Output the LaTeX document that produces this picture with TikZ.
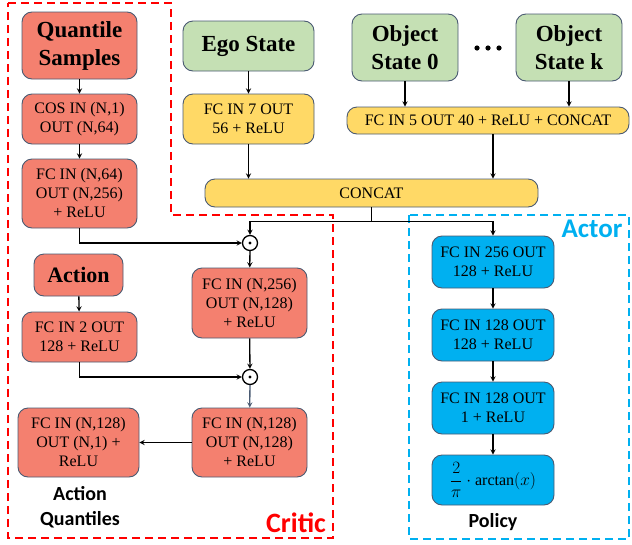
\documentclass[tikz,border=0pt]{standalone}
\usepackage{amsmath}
\usepackage{fontspec}
\setmainfont{Liberation Serif}
\newfontfamily\labelfont{Carlito}
\usepackage{xcolor}
\usepackage{tikz}
\usetikzlibrary{shapes.geometric, arrows}
\definecolor{salmon}{HTML}{F4806F}
\definecolor{mint}{HTML}{C5E0B4}
\definecolor{gold}{HTML}{FFD966}
\definecolor{sky}{HTML}{00B0F0}
\definecolor{edge}{HTML}{4A5A72}
\tikzstyle{layer} = [rectangle, rounded corners=10pt, draw=edge, line width=0.9pt, text centered, align=center, inner sep=2pt, font=\fontsize{16}{19}\selectfont]
\tikzstyle{critic} = [layer, fill=salmon]
\tikzstyle{state} = [layer, fill=mint, font=\fontsize{23}{28}\selectfont\bfseries]
\tikzstyle{merge} = [layer, fill=gold]
\tikzstyle{actor} = [layer, fill=sky, minimum width=122pt]
\tikzstyle{prod} = [circle, draw=black, line width=1.3pt, fill=white, minimum size=15pt, inner sep=0pt]
\tikzstyle{caption} = [align=center, font=\labelfont\fontsize{20}{25}\selectfont\bfseries]
\tikzstyle{arrow} = [line width=1.3pt,->,>=stealth]

\begin{document}
\begin{tikzpicture}[x=1pt, y=-1pt]
   \useasboundingbox (0,0) rectangle (632,544);
   % dashed regions
   \draw [red, dashed, line width=1.8pt, dash pattern=on 8pt off 5pt] (8,3) -- (171,3) -- (171,215) -- (333,215) -- (333,538) -- (8,538) -- cycle;
   \draw [sky, dashed, line width=1.8pt, dash pattern=on 8pt off 5pt] (409,215) rectangle (629,539);
   \node (critlbl) [font=\labelfont\fontsize{28}{30}\selectfont\bfseries, text=red] at (296,523) {Critic};
   \node (actlbl) [font=\labelfont\fontsize{27}{30}\selectfont\bfseries, text=sky] at (592,229) {Actor};
   % inputs
   \node (qs) [critic, font=\fontsize{23}{28}\selectfont\bfseries, minimum width=115pt, minimum height=67pt] at (79.5,45.5) {Quantile\\Samples};
   \node (ego) [state, minimum width=131pt, minimum height=50pt] at (248.5,46) {Ego State};
   \node (obj0) [state, minimum width=106pt, minimum height=67pt] at (405,47.5) {Object\\State 0};
   \node (objk) [state, minimum width=106pt, minimum height=67pt] at (569,47.5) {Object\\State k};
   \foreach \dx in {477,488,499}
      \fill (\dx,48) circle (2.6pt);
   % encoders
   \node (cos) [critic, minimum width=115pt, minimum height=50pt] at (79.5,119) {COS IN (N,1)\\OUT (N,64)};
   \node (fc64) [critic, minimum width=115pt, minimum height=69pt] at (79.5,193.5) {FC IN (N,64)\\OUT (N,256)\\+ ReLU};
   \node (fc7) [merge, minimum width=131pt, minimum height=50pt] at (248.5,119) {FC IN 7 OUT\\56 + ReLU};
   \node (fc5) [merge, minimum width=282pt, minimum height=27pt] at (488,120.5) {FC IN 5 OUT 40 + ReLU + CONCAT};
   \node (concat) [merge, minimum width=333pt, minimum height=28pt] at (371.5,193) {CONCAT};
   % critic
   \node (dot1) [prod] at (250,243) {};
   \fill (dot1) circle (1.6pt);
   \node (fc256) [critic, minimum width=115pt, minimum height=70pt] at (249.5,303) {FC IN (N,256)\\OUT (N,128)\\+ ReLU};
   \node (action) [critic, font=\fontsize{22}{26}\selectfont\bfseries, minimum width=89pt, minimum height=42pt] at (78.5,275) {Action};
   \node (fc2) [critic, minimum width=115pt, minimum height=50pt] at (79.5,337) {FC IN 2 OUT\\128 + ReLU};
   \node (dot2) [prod] at (250,377) {};
   \fill (dot2) circle (1.6pt);
   \node (fcq) [critic, minimum width=115pt, minimum height=69pt] at (249.5,442.5) {FC IN (N,128)\\OUT (N,128)\\+ ReLU};
   \node (fcout) [critic, minimum width=121pt, minimum height=69pt] at (78.5,442.5) {FC IN (N,128)\\OUT (N,1) +\\ReLU};
   \node (aq) [caption] at (80,507) {Action\\Quantiles};
   % actor
   \node (a1) [actor, minimum height=52pt] at (493,262) {FC IN 256 OUT\\128 + ReLU};
   \node (a2) [actor, minimum height=52pt] at (493,335) {FC IN 128 OUT\\128 + ReLU};
   \node (a3) [actor, minimum height=52pt] at (493,408) {FC IN 128 OUT\\1 + ReLU};
   \node (a4) [actor, minimum height=50pt] at (493,480) {$\dfrac{2}{\pi}\cdot\arctan(x)$};
   \node (policy) [caption] at (493,522) {Policy};
   % connectors
   \coordinate (split) at ([yshift=-14pt]concat.south);
   \draw [arrow] (qs) -- (cos);
   \draw [arrow] (cos) -- (fc64);
   \draw [arrow] (ego) -- (fc7);
   \draw [arrow] (fc7.south) -- (fc7.south |- concat.north);
   \draw [arrow] (obj0.south) -- (obj0.south |- fc5.north);
   \draw [arrow] (objk.south) -- (objk.south |- fc5.north);
   \draw [arrow] ([xshift=5pt]fc5.south) -- ([xshift=5pt]fc5.south |- concat.north);
   \draw [line width=1.3pt] (concat.south) -- (split);
   \draw [arrow] (split) -| (dot1.north);
   \draw [arrow] (split) -| (a1.north);
   \draw [arrow] (fc64.south) |- (dot1.west);
   \draw [arrow] (dot1) -- (fc256);
   \draw [arrow] (action) -- (fc2);
   \draw [arrow] (fc256) -- (dot2);
   \draw [arrow] (fc2.south) |- (dot2.west);
   \draw [arrow, edge] (dot2) -- (fcq);
   \draw [arrow] (fcq) -- (fcout);
   \draw [arrow] (a1) -- (a2);
   \draw [arrow] (a2) -- (a3);
   \draw [arrow] (a3) -- (a4);
\end{tikzpicture}
\end{document}
